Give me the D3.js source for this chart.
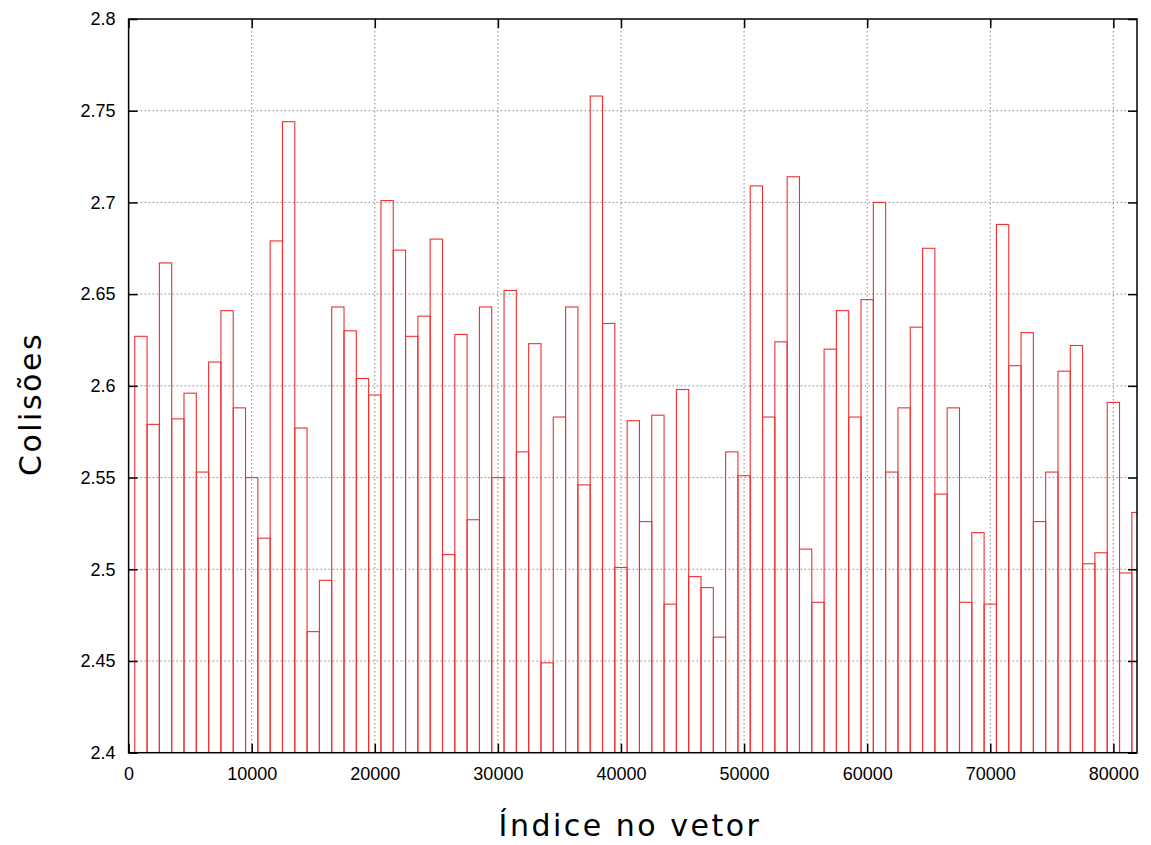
<!DOCTYPE html>
<html>
<head>
<meta charset="utf-8">
<script src="https://cdn.jsdelivr.net/npm/d3@7"></script>
<style>
  body { margin: 0; background: #fff; }
  svg { display: block; }
</style>
</head>
<body>
<svg id="chart"></svg>
<script>
// colisões médias por bloco de 1000 posições (centro do bloco)
const binCenters = d3.range(1, 83).map(k => k * 1000);
const collisions = [
  2.627, 2.579, 2.667, 2.582, 2.596, 2.553, 2.613, 2.641, 2.588, 2.550,
  2.517, 2.679, 2.744, 2.577, 2.466, 2.494, 2.643, 2.630, 2.604, 2.595,
  2.701, 2.674, 2.627, 2.638, 2.680, 2.508, 2.628, 2.527, 2.643, 2.550,
  2.652, 2.564, 2.623, 2.449, 2.583, 2.643, 2.546, 2.758, 2.634, 2.501,
  2.581, 2.526, 2.584, 2.481, 2.598, 2.496, 2.490, 2.463, 2.564, 2.551,
  2.709, 2.583, 2.624, 2.714, 2.511, 2.482, 2.620, 2.641, 2.583, 2.647,
  2.700, 2.553, 2.588, 2.632, 2.675, 2.541, 2.588, 2.482, 2.520, 2.481,
  2.688, 2.611, 2.629, 2.526, 2.553, 2.608, 2.622, 2.503, 2.509, 2.591,
  2.498, 2.531
];
const binWidth = 1000;
const xTicks = [0, 10000, 20000, 30000, 40000, 50000, 60000, 70000, 80000];
const yTicks = [2.4, 2.45, 2.5, 2.55, 2.6, 2.65, 2.7, 2.75, 2.8];
const xLabel = "Índice no vetor";
const yLabel = "Colisões";

const config = {
  width: 1151, height: 845,
  margin: { left: 128.6, right: 14, top: 19, bottom: 92.3 }
};

const svg = d3.select("#chart")
  .attr("width", config.width)
  .attr("height", config.height);

const innerW = config.width - config.margin.left - config.margin.right;
const innerH = config.height - config.margin.top - config.margin.bottom;
const x0 = config.margin.left, x1 = x0 + innerW;
const y0 = config.margin.top, y1 = y0 + innerH;

const xScale = d3.scaleLinear().domain([0, 81920]).range([x0, x1]);
const yScale = d3.scaleLinear().domain([2.4, 2.8]).range([y1, y0]);

// grade pontilhada
svg.append("g").selectAll("line.gx")
  .data(xTicks.filter(t => t > 0))
  .join("line")
  .attr("x1", d => xScale(d)).attr("x2", d => xScale(d))
  .attr("y1", y0).attr("y2", y1)
  .attr("stroke", "#777").attr("stroke-width", 0.9)
  .attr("stroke-dasharray", "1.5,2.5");

svg.append("g").selectAll("line.gy")
  .data(yTicks.filter(t => t > 2.4 && t < 2.8))
  .join("line")
  .attr("x1", x0).attr("x2", x1)
  .attr("y1", d => yScale(d)).attr("y2", d => yScale(d))
  .attr("stroke", "#777").attr("stroke-width", 0.9)
  .attr("stroke-dasharray", "1.5,2.5");

// barras (caixas vazias)
svg.append("defs").append("clipPath").attr("id", "clip")
  .append("rect").attr("x", x0).attr("y", y0).attr("width", innerW).attr("height", innerH);

svg.append("g")
  .attr("clip-path", "url(#clip)")
  .selectAll("rect")
  .data(binCenters.map((c, i) => ({ c: c, v: collisions[i] })))
  .join("rect")
  .attr("x", d => xScale(d.c - binWidth / 2))
  .attr("width", d => xScale(d.c + binWidth / 2) - xScale(d.c - binWidth / 2))
  .attr("y", d => yScale(d.v))
  .attr("height", d => yScale(2.4) - yScale(d.v))
  .attr("fill", "none")
  .attr("stroke", "#f03030")
  .attr("stroke-width", 1.1);

// eixos com marcas para dentro
const tickLen = 9;
svg.append("g")
  .attr("transform", `translate(0,${y1})`)
  .call(d3.axisBottom(xScale).tickValues(xTicks).tickSize(-tickLen).tickPadding(15).tickFormat(d3.format("d")))
  .call(g => g.select(".domain").remove());

svg.append("g")
  .attr("transform", `translate(0,${y0})`)
  .call(d3.axisTop(xScale).tickValues(xTicks).tickSize(-tickLen).tickFormat(""))
  .call(g => g.select(".domain").remove());

svg.append("g")
  .attr("transform", `translate(${x0},0)`)
  .call(d3.axisLeft(yScale).tickValues(yTicks).tickSize(-tickLen).tickPadding(13).tickFormat(d => d3.format("")(+d.toFixed(2))))
  .call(g => g.select(".domain").remove());

svg.append("g")
  .attr("transform", `translate(${x1},0)`)
  .call(d3.axisRight(yScale).tickValues(yTicks).tickSize(-tickLen).tickFormat(""))
  .call(g => g.select(".domain").remove());

svg.selectAll(".tick line").attr("stroke", "#000").attr("stroke-width", 1.5);
svg.selectAll(".tick text")
  .attr("fill", "#000")
  .attr("font-family", "'Liberation Sans', Arial, sans-serif")
  .attr("font-size", "18px");

// moldura
svg.append("rect")
  .attr("x", x0).attr("y", y0).attr("width", innerW).attr("height", innerH)
  .attr("fill", "none").attr("stroke", "#000").attr("stroke-width", 1.5);

// títulos dos eixos
svg.append("text")
  .attr("x", 630)
  .attr("y", 836)
  .attr("text-anchor", "middle")
  .attr("font-family", "'DejaVu Sans', Verdana, sans-serif")
  .attr("font-size", "30px")
  .attr("letter-spacing", "2.5px")
  .text(xLabel);

svg.append("g")
  .attr("transform", "translate(41, 404) rotate(-90)")
  .append("text")
  .attr("text-anchor", "middle")
  .attr("font-family", "'DejaVu Sans', Verdana, sans-serif")
  .attr("font-size", "30px")
  .attr("letter-spacing", "2.5px")
  .text(yLabel);
</script>
</body>
</html>
